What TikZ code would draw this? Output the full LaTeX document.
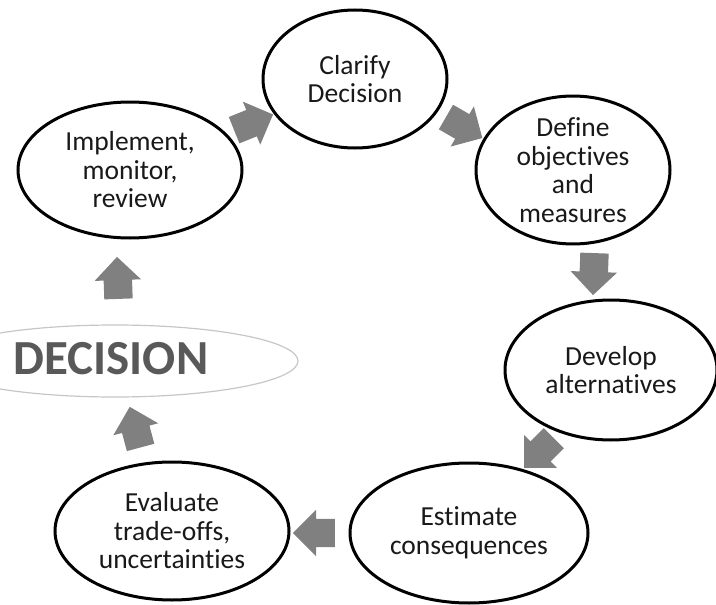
\documentclass[tikz,border=0pt]{standalone}
\usepackage{fontspec}
\setmainfont{Carlito}[Ligatures=NoCommon]
\usetikzlibrary{shapes.geometric,shapes.arrows}

\begin{document}
\begin{tikzpicture}[
    x=1pt, y=-1pt,
    stage/.style={
        ellipse,
        draw=black,
        line width=3pt,
        fill=white,
        inner sep=0pt,
        font=\fontsize{27.5}{28.5}\selectfont,
        text=black!90,
        align=center
    },
    flow arrow/.style={
        single arrow,
        fill=gray,
        draw=none,
        inner xsep=0pt,
        inner ysep=14pt,
        minimum height=42pt,
        single arrow head extend=9pt,
        rotate=#1
    }
]
\useasboundingbox (0,0) rectangle (716,605);

% Cycle stages
\node[stage, minimum width=184pt, minimum height=138pt] (clar) at (355,79) {Clarify\\Decision};
\node[stage, minimum width=194pt, minimum height=139pt] (defn) at (573,170) {Define\\objectives\\and\\measures};
\node[stage, minimum width=212pt, minimum height=140pt] (devl) at (611,370) {Develop\\alternatives};
\node[stage, minimum width=238pt, minimum height=140pt] (estm) at (469,533) {Estimate\\consequences};
\node[stage, minimum width=234pt, minimum height=138pt] (eval) at (172,531) {Evaluate\\trade-offs,\\uncertainties};
\node[stage, minimum width=224pt, minimum height=136pt] (impl) at (130,170) {Implement,\\monitor,\\review};

% Decision banner
\node[ellipse, draw=gray!45, line width=1.2pt, minimum width=366pt, minimum height=72pt] (dec) at (115,361) {};
\node[font=\fontsize{49}{52}\selectfont\bfseries, text=black!65, anchor=west] (declabel) at (10,359) {DECISION};

% Arrows between stages
\node[flow arrow=22]   (a1) at (247,125) {};
\node[flow arrow=-30]  (a2) at (458,124) {};
\node[flow arrow=-92]  (a3) at (594,267) {};
\node[flow arrow=-135] (a4) at (544,448) {};
\node[flow arrow=180]  (a5) at (321,533) {};
\node[flow arrow=105]  (a6) at (137,434) {};
\node[flow arrow=92]   (a7) at (118,285) {};

\end{tikzpicture}
\end{document}
